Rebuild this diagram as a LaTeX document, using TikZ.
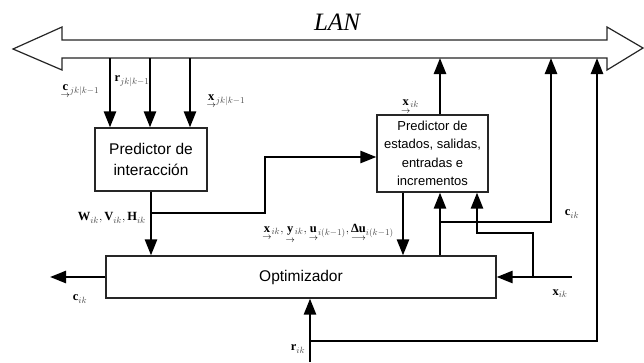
\documentclass[tikz,border=0pt]{standalone}
\usepackage{amsmath}
\usepackage[no-math]{fontspec}
\setmainfont{Liberation Sans}
\newfontfamily\serfont{Liberation Serif}
\usetikzlibrary{arrows.meta,calc}

% bold serif letter, optionally with a small arrow underneath
\newcommand{\bv}[1]{\mathord{\hbox{\serfont\bfseries #1}}}
\newcommand{\uv}[1]{{\smash[b]{\underset{\rightarrow}{\bv{#1}}}}}
\newcommand{\uvl}[1]{{\smash[b]{\underset{\longrightarrow}{\bv{#1}}}}}
\newcommand{\sub}[1]{{\color{black!70}#1}}

\tikzset{
  blockbox/.style={draw=black!85, line width=1.2pt, fill=white, align=center,
    inner sep=2pt},
  conn/.style={line width=2.5pt, -{Triangle[length=16pt,width=12pt]}},
  lbl/.style={inner sep=0pt, font=\fontsize{12.5}{14}\selectfont},
}

\begin{document}
\begin{tikzpicture}[x=1pt,y=-1pt]
\useasboundingbox (0,0) rectangle (644,362);

% LAN bus: hollow double-headed arrow
\draw[black!85, line width=1.2pt, fill=white]
  (13,49) -- (62,27) -- (62,40) -- (607,40) -- (607,27) -- (643,48)
  -- (607,70) -- (607,58) -- (62,58) -- (62,70) -- cycle;
\node[font=\serfont\itshape\fontsize{25}{28}\selectfont] (lan) at (337,22) {LAN};
\coordinate (bus) at (0,58);

% blocks
\node[blockbox, minimum width=112pt, minimum height=63pt,
      font=\fontsize{15.5}{21}\selectfont] (pi) at (151,159.5)
      {Predictor de\\interacción};
\node[blockbox, minimum width=111pt, minimum height=77pt,
      font=\fontsize{13}{18.5}\selectfont] (pe) at (432.5,153.5)
      {Predictor de\\estados, salidas,\\entradas e\\incrementos};
\node[blockbox, minimum width=390pt, minimum height=42pt,
      font=\fontsize{15.5}{18}\selectfont] (opt) at (301,277) {Optimizador};

% junction and free-end points
\coordinate (jpi) at (151,213);
\coordinate (jpe) at (440,222);
\coordinate (jx) at (533,277);
\coordinate (xin) at (572,277);
\coordinate (rin) at (310,362);
\coordinate (jr) at (310,341);
\coordinate (cout) at (50,277);

% from the bus into the interaction predictor
\draw[conn] (110,0 |- bus) -- (110,0 |- pi.north);
\draw[conn] (150,0 |- bus) -- (150,0 |- pi.north);
\draw[conn] (190,0 |- bus) -- (190,0 |- pi.north);

% interaction predictor to optimizer and to state predictor
\draw[conn] (pi.south) -- (opt.north -| pi.south);
\draw[conn] (jpi) -- (265,213) -- (265,157) -- (265,157 -| pe.west);

% state predictor to the bus
\draw[conn] (440,0 |- pe.north) -- (440,0 |- bus);

% state predictor to optimizer
\draw[conn] (403,0 |- pe.south) -- (403,0 |- opt.north);

% optimizer back to state predictor and to the bus
\draw[conn] (440,0 |- opt.north) -- (440,0 |- pe.south);
\draw[conn] (jpe) -- (551,222) -- (551,0 |- bus);

% measured state input
\draw[conn] (xin) -- (opt.east |- xin);
\draw[conn] (jx) -- (533,233) -- (477,233) -- (477,0 |- pe.south);

% reference input
\draw[conn] (rin) -- (opt.south -| rin);
\draw[conn] (jr) -- (597,341) -- (597,0 |- bus);

% optimizer output
\draw[conn] (opt.west |- cout) -- (cout);

% labels
\node[lbl] (l1) at (80,90) {$\uv{c}_{\sub{jk|k-1}}$};
\node[lbl] (l2) at (132,81) {$\bv{r}_{\sub{jk|k-1}}$};
\node[lbl] (l3) at (226,100) {$\uv{x}_{\sub{jk|k-1}}$};
\node[lbl] (l4) at (410,104) {$\uv{x}_{\sub{ik}}$};
\node[lbl, anchor=east] (l5) at (146,218)
  {$\bv{W}_{\sub{ik}},\bv{V}_{\sub{ik}},\bv{H}_{\sub{ik}}$};
\node[lbl] (l6) at (328,231)
  {$\uv{x}_{\sub{ik}},\uv{y}_{\sub{ik}},\uv{u}_{\sub{i(k-1)}},\uvl{Δu}_{\sub{i(k-1)}}$};
\node[lbl] (l7) at (572,214) {$\bv{c}_{\sub{ik}}$};
\node[lbl] (l8) at (560,294) {$\bv{x}_{\sub{ik}}$};
\node[lbl] (l9) at (80,299) {$\bv{c}_{\sub{ik}}$};
\node[lbl] (l10) at (298,349) {$\bv{r}_{\sub{ik}}$};
\end{tikzpicture}
\end{document}
